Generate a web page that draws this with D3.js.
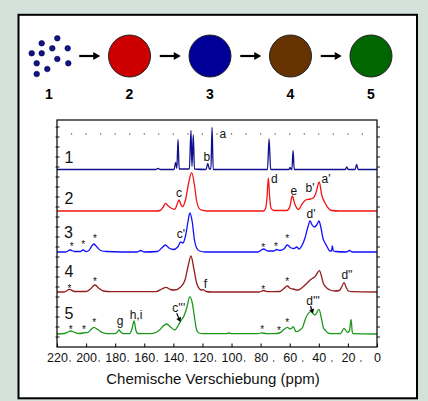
<!DOCTYPE html>
<html><head><meta charset="utf-8">
<script src="https://cdn.jsdelivr.net/npm/d3@7"></script>
<style>body{margin:0;background:#d3e2da;} svg{display:block;}</style>
</head><body><svg id="c" width="428" height="401"></svg>
<script>
// ---------- data ----------
const xTickValues = [220,200,180,160,140,120,100,80,60,40,20,0];
const xMinorValues = [210,190,170,150,130,110,90,70,50,30,10];
const dotLineValues = [210,200,190,180,170,160,150,140,130,120,110,100,90,80,70,60,50,40,30,20,10];
const spectrumNames = ['1','2','3','4','5'];
const spectrumColors = ['#10108e','#f21414','#1010ff','#941c1c','#1c991c'];
const spectrumBase = [177.5,136,95,55,13];

const spec1 = [[220,0],[152,0],[150.6,1.2],[149,0],[139.5,0],[138.4,7],[137.6,1],[136.8,30],[136,0.5],[129,0.5],[127.9,39],[127.2,3],[126.3,34.5],[125.5,0.5],[117.5,0],[116.4,6],[115.2,0.5],[114.2,0.5],[113.4,42],[112.6,0],[75.3,0],[74.2,30.5],[73.1,0],[60.5,0],[59.8,2],[59,0],[58.5,0],[57.7,19],[56.9,0],[21.8,0],[20.8,2.5],[19.8,0],[15,0],[14,5],[13,0],[0,0]];
const spec2 = [[220,0],[152,0],[149,0.5],[147,4],[145.3,7.7],[143.5,5],[141,2.5],[139,1.7],[137.6,6],[136.1,11],[135,7],[133.8,4.3],[131.5,12],[129.5,28],[127.4,38.3],[125.5,26],[124,10],[122.5,3],[120.5,0.8],[117,0],[78,0],[76.5,3],[75.6,14],[74.7,33],[73.8,14],[72.9,3],[71,0.5],[62,0.5],[60,4],[58.2,15],[56.5,7],[54,1.5],[51.5,7],[49,11],[46,12],[43.8,13],[42,18],[39.7,29],[38,16],[35.7,8],[33,2],[31,0.5],[26,0],[0,0]];
const spec3 = [[220,0],[214,0],[211,2],[208,0.5],[204,0.5],[202,2],[200,0.5],[198,1.5],[196.5,5],[194.6,8],[192.5,5],[190,1.5],[186,0.5],[165,0],[162.5,1.5],[160,0],[151,0.5],[148,4],[145.5,7],[143,4],[140,2.5],[137,5],[135,10],[133.5,9],[131.5,17],[130,30],[128.6,39],[127,30],[125.5,12],[124,4],[122,1],[118,0],[82,0],[78,3],[75,1],[71,1],[69,2.5],[67,1.5],[64,3],[61.7,7],[59,4],[57,3.5],[55.2,5],[53.5,3],[51.8,6],[49.5,14],[47.5,25],[46,31],[44.6,27],[43,25],[41.5,27],[39.9,31],[38.5,24],[37,13],[35.7,9],[34.2,5],[32.5,1],[31.3,1],[30.7,6],[30,1],[28.5,0.5],[21,0],[19,1.5],[17,0],[0,0]];
const spec4 = [[220,0],[215,0],[211.5,2.7],[208,0.5],[200,0.5],[197,3],[193.9,7],[191,3.5],[188,1],[183,0.3],[152,0.3],[148,3],[145,4.7],[142,2.5],[139,2],[135,5],[132,12],[130,25],[127.9,36],[126,24],[124,9],[122,3],[120.5,2],[119.4,2.3],[117.5,0.5],[114,0],[81,0],[78,1.5],[75,0.3],[67,0.5],[64,3.5],[61.7,6],[59.5,3.5],[57.5,3],[55.5,2],[54,2],[51,5],[48,9],[46,12],[44,14],[42.6,15.5],[41,19],[39.6,21.3],[38.2,16],[36.9,8.7],[34.5,4],[32.3,2],[29,1],[26,1.5],[24.3,5],[22.7,9.3],[21.3,5],[19.7,1],[17,0.3],[0,0]];
const spec5 = [[220,0],[215,0.5],[212.5,2],[210.6,3],[208.5,2],[205,0.5],[202,1],[200.8,1.5],[199,1.3],[197,4],[194.6,6.7],[192,4.5],[189,1.5],[185,0.3],[180,0.3],[178.5,2],[177.4,4],[176.2,2],[174.5,0.3],[170,0.3],[168.5,5],[167,13],[165.8,4],[164.5,0.5],[156,0.3],[152,1.5],[149.5,4],[147,8],[144.6,10],[142,7],[139,4],[136.5,9],[134.5,14],[133,17],[131,25],[128.6,37.3],[127,31],[125,12],[124,4],[122.5,1],[120,0.3],[104,0.3],[101.8,1],[99.5,0.3],[82,0.3],[79.3,1.2],[76,0.3],[71,0.3],[67,1],[64,4.5],[61.7,6.7],[59.5,5],[58.5,6],[57.5,7.3],[55.7,2.3],[53,4],[51,7],[49.5,14],[47.5,20],[45.6,22.3],[42.6,19],[39.9,24.7],[38,14],[36.8,6],[35.7,4],[33,0.5],[30,0.3],[25,0.5],[22.7,5.7],[20.4,1.7],[19,3],[17.8,14.7],[17,2],[16.3,0.3],[0,0]];
const spectra = [spec1,spec2,spec3,spec4,spec5];

// spectrum number labels (ppm, units)
const numPpm = [211.8,211.8,212.2,211.8,211.8];
const numY = [184,143,109.5,70,28];

// peak annotations
const annoText = ['a','b','c','d','e',"b'","a'","c'","d'",'f',"d''",'g','h,i',"c'''","d'''"];
const annoPpm = [105.9,116.9,136.1,70.5,57.1,46.1,35.1,134.8,45.4,117.9,20.6,176.7,165.7,136.3,44];
const annoY = [209,186,150,164,152,155.3,164.3,109,129,59,68,22,28,35.3,42];

// spinning side-band stars (center ppm, units)
const starPpm = [209.9,201.9,193.9,78.2,69.4,61.7, 211.5,193.9,78.2,61.7, 210.6,201.4,194.5,78.9,67.4,61.7];
const starY = [102.6,104.3,111,101.3,103,111, 60.3,67.7,59.7,67.7, 19.7,19.7,26.3,19.7,18.7,26.3];

// arrows [ppm, units]
const arrowFrom = [[137.7,33.7],[45.7,41]];
const arrowTo = [[135.1,25],[44,33.5]];

// scheme
const schemeLabels = ['1','2','3','4','5'];
const schemeColors = [null,'#cc0000','#000099','#663300','#006600'];
const nanoDots = [[-7.3,-12.7],[8.3,-17.7],[-17.3,-2.7],[-7.3,-2.7],[3.3,-7.7],[18.7,-7.7],[-12.3,7.3],[8.3,3],[19.3,7.3],[-1.7,13],[-12.3,18]];

const xTitle = 'Chemische Verschiebung (ppm)';

// ---------- drawing ----------
const FONT = "'Liberation Sans', Arial, Helvetica, sans-serif";
const svg = d3.select('#c');
svg.append('rect').attr('x',18.5).attr('y',14.8).attr('width',398.5).attr('height',383.5)
  .attr('fill','#fff').attr('stroke','#000').attr('stroke-width',2);

// scheme
const sx = d3.scalePoint().domain(schemeLabels).range([49,371]);
const sy = 56;
const sg = svg.append('g');
nanoDots.forEach(d=>{
  sg.append('circle').attr('cx',sx('1')+d[0]).attr('cy',sy+d[1]).attr('r',2.8)
    .attr('fill','#12128c').attr('stroke','#05053a').attr('stroke-width',0.6);
});
schemeLabels.forEach((l,i)=>{
  if(schemeColors[i]) sg.append('circle').attr('cx',sx(l)).attr('cy',sy).attr('r',21)
    .attr('fill',schemeColors[i]).attr('stroke','#222').attr('stroke-width',1);
  sg.append('text').attr('x',sx(l)).attr('y',99).attr('text-anchor','middle')
    .attr('font-family',FONT).attr('font-weight','bold').attr('font-size',14).text(l);
  if(i<schemeLabels.length-1){
    const m=(sx(l)+sx(schemeLabels[i+1]))/2;
    const x1=m-10,x2=m+10;
    sg.append('line').attr('x1',x1).attr('x2',x2-4).attr('y1',sy).attr('y2',sy)
      .attr('stroke','#000').attr('stroke-width',2.2);
    sg.append('path').attr('d',`M${x2-6},${sy-4}L${x2+1},${sy}L${x2-6},${sy+4}Z`).attr('fill','#000');
  }
});

// plot
const L=57,R=377,T=120,B=347;
const x = d3.scaleLinear().domain([220,0]).range([L,R]);
const y = d3.scaleLinear().domain([0,227]).range([B,T]);

svg.append('defs').append('clipPath').attr('id','clip').append('rect')
  .attr('x',L).attr('y',T).attr('width',R-L).attr('height',B-T);

// dotted reference line
svg.append('g').selectAll('circle').data(dotLineValues).join('circle')
  .attr('cx',d=>x(d)).attr('cy',y(213)).attr('r',0.7).attr('fill','#555');

const line = d3.line().x(d=>x(d[0])).curve(d3.curveMonotoneX);
const pg = svg.append('g').attr('clip-path','url(#clip)');
spectra.forEach((s,i)=>{
  pg.append('path').attr('d',line.y(d=>y(spectrumBase[i]+d[1]))(s))
    .attr('fill','none').attr('stroke',spectrumColors[i]).attr('stroke-width',1.3)
    .attr('stroke-linejoin','round');
});

// box
svg.append('rect').attr('x',L).attr('y',T).attr('width',R-L).attr('height',B-T)
  .attr('fill','none').attr('stroke','#000').attr('stroke-width',1.2);

// left/right ticks
const yt = d3.range(10,227,10);
svg.append('g').selectAll('line').data(yt).join('line')
  .attr('x1',L-1.5).attr('x2',L+2.5).attr('y1',d=>y(d)).attr('y2',d=>y(d)).attr('stroke','#000').attr('stroke-width',0.9);
svg.append('g').selectAll('line').data(yt).join('line')
  .attr('x1',R).attr('x2',R+3).attr('y1',d=>y(d)).attr('y2',d=>y(d)).attr('stroke','#000').attr('stroke-width',0.9);

// bottom axis
const ax = svg.append('g').attr('transform',`translate(0,${B})`)
  .call(d3.axisBottom(x).tickValues(xTickValues).tickSizeInner(-3.5).tickSizeOuter(0).tickPadding(6));
ax.select('.domain').remove();
ax.selectAll('line').attr('stroke','#000').attr('stroke-width',1);
ax.selectAll('text').attr('font-family',FONT).attr('font-size',12.5).attr('fill','#111');
svg.append('g').selectAll('circle').data(xMinorValues).join('circle')
  .attr('cx',d=>x(d)-1.5).attr('cy',361).attr('r',0.8).attr('fill','#333');

svg.append('text').attr('x',(L+R)/2-4).attr('y',383.5).attr('text-anchor','middle')
  .attr('font-family',FONT).attr('font-size',15).attr('fill','#111').text(xTitle);

// spectrum numbers
spectrumNames.forEach((n,i)=>{
  svg.append('text').attr('x',x(numPpm[i])).attr('y',y(numY[i])).attr('text-anchor','middle')
    .attr('font-family',FONT).attr('font-size',16).attr('fill','#111').text(n);
});

// annotations
annoText.forEach((t,i)=>{
  svg.append('text').attr('x',x(annoPpm[i])).attr('y',y(annoY[i])).attr('text-anchor','middle')
    .attr('font-family',FONT).attr('font-size',12).attr('fill','#111').text(t);
});
starPpm.forEach((p,i)=>{
  svg.append('text').attr('x',x(p)).attr('y',y(starY[i])+5.5).attr('text-anchor','middle')
    .attr('font-family',FONT).attr('font-size',10).attr('fill','#111').text('*');
});
arrowFrom.forEach((f,i)=>{
  const x1=x(f[0]),y1=y(f[1]),x2=x(arrowTo[i][0]),y2=y(arrowTo[i][1]);
  const a=Math.atan2(y2-y1,x2-x1), hl=4.5, hw=2.6;
  const bx=x2-hl*Math.cos(a), by=y2-hl*Math.sin(a);
  svg.append('line').attr('x1',x1).attr('y1',y1).attr('x2',bx).attr('y2',by).attr('stroke','#000').attr('stroke-width',1.2);
  svg.append('path').attr('d',`M${x2},${y2}L${bx-hw*Math.sin(a)},${by+hw*Math.cos(a)}L${bx+hw*Math.sin(a)},${by-hw*Math.cos(a)}Z`).attr('fill','#000');
});
</script></body></html>
